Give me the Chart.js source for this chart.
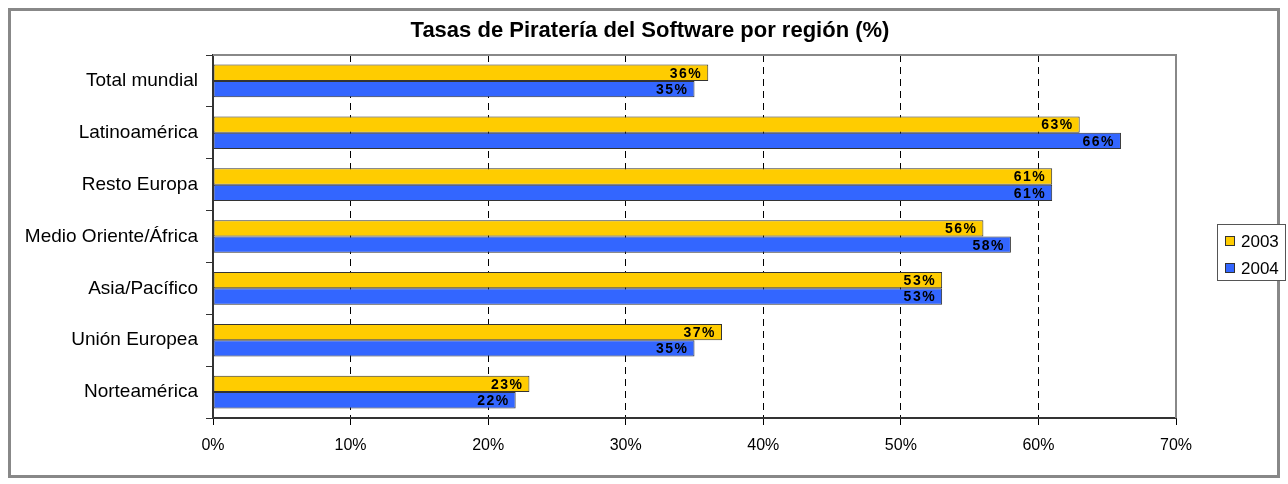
<!DOCTYPE html>
<html>
<head>
<meta charset="utf-8">
<script src="https://cdn.jsdelivr.net/npm/chart.js@4/dist/chart.umd.min.js"></script>
<style>
    body { margin: 0; background: #fff; }
    #frame {
        position: absolute; left: 8px; top: 8px;
        width: 1266px; height: 464px;
        border: 3px solid #888;
    }
    #wrap { position: absolute; left: 0; top: 0; width: 1288px; height: 484px; }
</style>
</head>
<body>
<div id="frame"></div>
<div id="wrap"><canvas id="chart" width="1288" height="484"></canvas></div>
<script>
// ========================
// DATA
// ========================
const regions = ['Total mundial', 'Latinoamérica', 'Resto Europa', 'Medio Oriente/África', 'Asia/Pacífico', 'Unión Europea', 'Norteamérica'];
const rates2003 = [36, 63, 61, 56, 53, 37, 23];
const rates2004 = [35, 66, 61, 58, 53, 35, 22];
const seriesNames = ['2003', '2004'];
const seriesColors = ['#FFCC00', '#3366FF'];
const chartTitle = 'Tasas de Piratería del Software por región (%)';

const FONT = '"Liberation Sans", Arial, sans-serif';

// ========================
// PLUGINS
// ========================
// value labels at the end of each bar
const barLabels = {
    id: 'barLabels',
    afterDatasetsDraw(chart) {
        const ctx = chart.ctx;
        ctx.save();
        ctx.font = 'bold 14px ' + FONT;
        ctx.fillStyle = '#000';
        ctx.textAlign = 'right';
        ctx.textBaseline = 'middle';
        if ('letterSpacing' in ctx) ctx.letterSpacing = '1.5px';
        chart.data.datasets.forEach(function(ds, i) {
            chart.getDatasetMeta(i).data.forEach(function(bar, j) {
                ctx.fillText(ds.data[j] + '%', bar.x - 6, bar.y + 1);
            });
        });
        ctx.restore();
    }
};

// title, plot frame and legend box
const decorations = {
    id: 'decorations',
    beforeDatasetsDraw(chart) {
        const a = chart.chartArea;
        const ctx = chart.ctx;
        ctx.save();
        ctx.strokeStyle = '#888';
        ctx.lineWidth = 2;
        ctx.beginPath();
        ctx.moveTo(a.left, a.top);
        ctx.lineTo(a.right, a.top);
        ctx.lineTo(a.right, a.bottom);
        ctx.stroke();
        ctx.restore();
    },
    afterDraw(chart) {
        const ctx = chart.ctx;
        ctx.save();
        // title
        ctx.font = 'bold 22px ' + FONT;
        ctx.fillStyle = '#000';
        ctx.textAlign = 'center';
        ctx.textBaseline = 'middle';
        ctx.fillText(chartTitle, 650, 31);

        // legend
        ctx.strokeStyle = '#555';
        ctx.lineWidth = 1;
        ctx.fillStyle = '#fff';
        ctx.fillRect(1217.5, 224.5, 68, 56);
        ctx.strokeRect(1217.5, 224.5, 68, 56);
        ctx.font = '17px ' + FONT;
        ctx.textAlign = 'left';
        seriesNames.forEach(function(name, i) {
            const y = 241 + i * 27;
            ctx.fillStyle = seriesColors[i];
            ctx.fillRect(1225.5, y - 4.5, 9, 9);
            ctx.strokeStyle = '#333';
            ctx.strokeRect(1225.5, y - 4.5, 9, 9);
            ctx.fillStyle = '#000';
            ctx.fillText(name, 1241, y + 1);
        });
        ctx.restore();
    }
};

// ========================
// CHART
// ========================
new Chart(document.getElementById('chart'), {
    type: 'bar',
    data: {
        labels: regions,
        datasets: [
            { label: seriesNames[0], data: rates2003, backgroundColor: seriesColors[0], borderColor: '#333', borderWidth: 1, borderSkipped: false },
            { label: seriesNames[1], data: rates2004, backgroundColor: seriesColors[1], borderColor: '#333', borderWidth: 1, borderSkipped: false }
        ]
    },
    options: {
        indexAxis: 'y',
        responsive: false,
        animation: false,
        layout: { padding: { top: 55, right: 112, left: 0, bottom: 0 } },
        datasets: {
            bar: { categoryPercentage: 0.63, barPercentage: 1.0 }
        },
        plugins: {
            legend: { display: false },
            title: { display: false },
            tooltip: { enabled: false }
        },
        scales: {
            x: {
                min: 0,
                max: 70,
                afterFit: function(scale) { scale.height = 66; },
                ticks: {
                    stepSize: 10,
                    color: '#000',
                    font: { family: FONT, size: 16 },
                    padding: 11,
                    callback: function(v) { return v + '%'; }
                },
                grid: {
                    color: function(c) { return (c.tick && (c.tick.value === 0 || c.tick.value === 70)) ? 'rgba(0,0,0,0)' : '#000'; },
                    tickColor: '#000',
                    tickLength: 7,
                    lineWidth: 1
                },
                border: { display: true, color: '#333', width: 2, dash: [7, 5] }
            },
            y: {
                afterFit: function(scale) { scale.width = 213; },
                ticks: {
                    color: '#000',
                    font: { family: FONT, size: 19 },
                    padding: 8
                },
                grid: {
                    offset: true,
                    drawOnChartArea: false,
                    tickColor: '#333',
                    tickLength: 7
                },
                border: { display: true, color: '#333', width: 2 }
            }
        }
    },
    plugins: [barLabels, decorations]
});
</script>
</body>
</html>
